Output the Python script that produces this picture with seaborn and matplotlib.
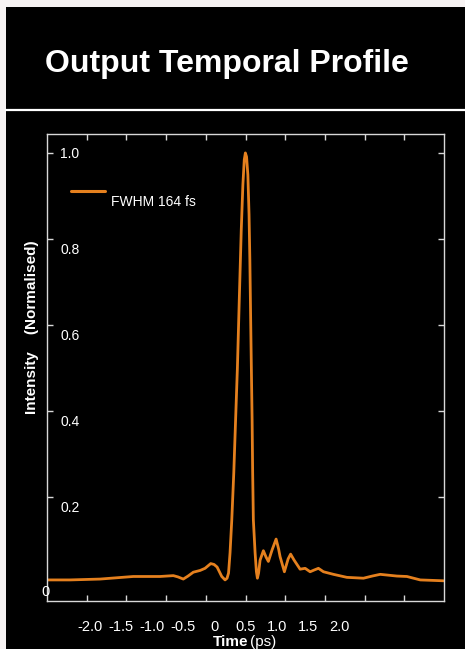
import numpy as np
import pandas as pd
import matplotlib.pyplot as plt
import matplotlib.transforms as mtrans
import seaborn as sns
from matplotlib.lines import Line2D
from matplotlib.patches import Rectangle
from matplotlib.ticker import FixedLocator

# values (time in ps, intensity normalised)
time_ps = [-2.671, -2.322, -1.840, -1.306, -0.877, -0.663, -0.588, -0.503, -0.427,
           -0.342, -0.234, -0.154, -0.063, -0.010, 0.039, 0.114, 0.167, 0.199,
           0.223, 0.247, 0.275, 0.307, 0.336, 0.365, 0.395, 0.427, 0.453, 0.475,
           0.493, 0.512, 0.533, 0.552, 0.565, 0.578, 0.589, 0.601, 0.610, 0.621,
           0.649, 0.670, 0.686, 0.705, 0.729, 0.782, 0.825, 0.862, 0.922, 0.986,
           1.026, 1.050, 1.119, 1.179, 1.219, 1.275, 1.371, 1.452, 1.532, 1.596,
           1.665, 1.746, 1.906, 2.121, 2.388, 2.528, 2.656, 2.924, 3.085, 3.299,
           3.673]
intensity = [0.007, 0.007, 0.009, 0.015, 0.015, 0.017, 0.014, 0.009, 0.016,
             0.025, 0.029, 0.034, 0.045, 0.043, 0.037, 0.015, 0.007, 0.011,
             0.023, 0.070, 0.147, 0.256, 0.379, 0.500, 0.658, 0.821, 0.926, 0.984,
             1.000, 0.991, 0.949, 0.856, 0.751, 0.612, 0.500, 0.379, 0.256, 0.147,
             0.070, 0.026, 0.011, 0.023, 0.053, 0.075, 0.060, 0.050, 0.077, 0.102,
             0.079, 0.061, 0.026, 0.056, 0.067, 0.053, 0.032, 0.034, 0.026, 0.030,
             0.034, 0.026, 0.020, 0.013, 0.011, 0.016, 0.020, 0.016, 0.015, 0.007,
             0.005]

x_tick_values = [-2.0, -1.5, -1.0, -0.5, 0.0, 0.5, 1.0, 1.5, 2.0]
x_tick_labels = ['-2.0', '-1.5', '-1.0', '-0.5', '0', '0.5', '1.0', '1.5', '2.0']
y_tick_values = [0.2, 0.4, 0.6, 0.8, 1.0]
y_tick_labels = ['0.2', '0.4', '0.6', '0.8', '1.0']

title = 'Output Temporal Profile'
legend_label = 'FWHM 164 fs'
ylabel = 'Intensity    (Normalised)'

orange = '#e5801e'
frame = '#d8d8d8'

sns.set_style('dark', {'axes.facecolor': 'black', 'figure.facecolor': '#f7f3f3'})
plt.rcParams['font.family'] = ['Liberation Sans', 'DejaVu Sans']

df = pd.DataFrame({'time': time_ps, 'intensity': intensity})

fig = plt.figure(figsize=(4.65, 6.49), dpi=100)
# black slide panel behind everything
fig.patches.append(Rectangle((6 / 465, 0), 1, 1 - 7 / 649, transform=fig.transFigure,
                             facecolor='black', edgecolor='none', zorder=-10))
fig.add_artist(Line2D([6 / 465, 1], [1 - 110 / 649] * 2, color='white', lw=1.6))
fig.text(45 / 465, 1 - 72 / 649, title, color='white', fontsize=23,
         fontweight='bold', ha='left', va='baseline')

ax = fig.add_axes([47 / 465, 1 - 601 / 649, 397 / 465, 467 / 649])
ax.set_zorder(5)
ax.set_facecolor('black')
sns.lineplot(data=df, x='time', y='intensity', ax=ax, color=orange, linewidth=2.0)

xmin, xmax = -2.69, 3.68
ax.set_xlim(xmin, xmax)
ax.set_ylim(-0.042, 1.044)

for s in ax.spines.values():
    s.set_visible(True)
    s.set_color(frame)
    s.set_linewidth(1.0)

ax.xaxis.set_major_locator(FixedLocator(x_tick_values))
ax.set_xticklabels(x_tick_labels)
ax.xaxis.set_minor_locator(FixedLocator(np.linspace(xmin, xmax, 11)[1:-1]))
ax.tick_params(axis='x', which='major', length=0, pad=13.5, labelsize=10.5,
               labelcolor='white')
ax.tick_params(axis='x', which='minor', direction='in', length=4, width=1,
               color=frame, top=True, bottom=True)

ax.set_yticks(y_tick_values)
ax.set_yticklabels(y_tick_labels)
ax.tick_params(axis='y', direction='in', length=4, width=1, color=frame,
               left=True, right=True, pad=-9.5, labelsize=10, labelcolor='white')
# on the slide the lower labels sit a little under their ticks
shift = mtrans.ScaledTranslation(0, -10 / 100, fig.dpi_scale_trans)
for lab in ax.get_yticklabels():
    lab.set_horizontalalignment('left')
    if lab.get_text() != '1.0':
        lab.set_transform(lab.get_transform() + shift)

ax.grid(False)
ax.set_xlabel('')
ax.set_ylabel('')
ax.text(-0.005, -0.021, '0', transform=ax.get_yaxis_transform(), color='white',
        fontsize=10.5, ha='center', va='center')

# legend drawn by hand to match the offset text
ax.add_line(Line2D([24 / 397, 58 / 397], [1 - 57 / 467] * 2, transform=ax.transAxes,
                   color=orange, lw=2.2))
ax.text(64 / 397, 1 - 68 / 467, legend_label, transform=ax.transAxes, color='white',
        fontsize=10, ha='left', va='center')

fig.text(32 / 465, 1 - 327 / 649, ylabel, rotation=90, color='white',
         fontsize=11, fontweight='bold', ha='center', va='center')
fig.text(213 / 465, 1 - 646 / 649, 'Time', color='white', fontsize=11,
         fontweight='bold', ha='left', va='baseline')
fig.text(250 / 465, 1 - 646 / 649, '(ps)', color='white', fontsize=11,
         ha='left', va='baseline')

fig.savefig('out.png', dpi=100, facecolor=fig.get_facecolor())
